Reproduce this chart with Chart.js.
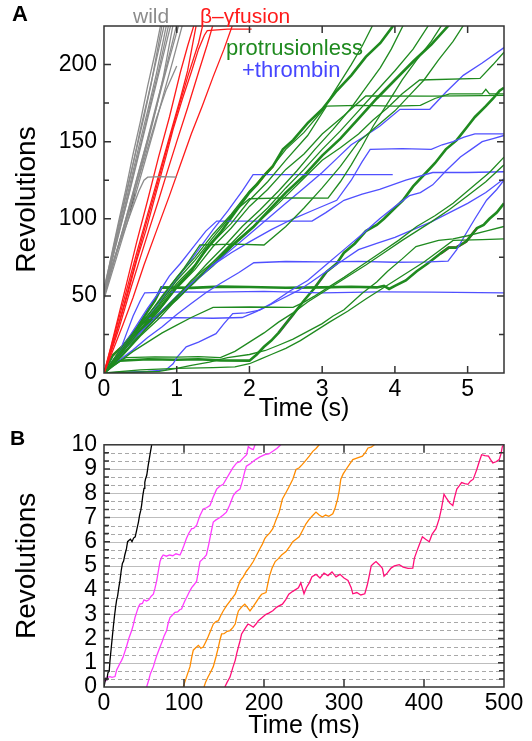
<!DOCTYPE html>
<html>
<head>
<meta charset="utf-8">
<script src="https://cdn.jsdelivr.net/npm/chart.js@4/dist/chart.umd.min.js"></script>
<style>
  body { margin: 0; background: #fff; width: 532px; height: 741px; position: relative; overflow: hidden;
         font-family: "Liberation Sans", Arial, sans-serif; }
  canvas { position: absolute; left: 0; }
  #chartA { top: 0; }
  #chartB { top: 424px; }
  .lbl { position: absolute; line-height: 1; white-space: nowrap; }
</style>
</head>
<body>
<canvas id="chartA" width="532" height="424"></canvas>
<canvas id="chartB" width="532" height="317"></canvas>
<div class="lbl" style="left:12px;top:3px;font-size:22px;font-weight:bold;">A</div>
<div class="lbl" style="left:10px;top:427px;font-size:21px;font-weight:bold;">B</div>
<div class="lbl" style="left:133px;top:5px;font-size:21px;color:#8c8c8c;">wild</div>
<div class="lbl" style="left:200px;top:5px;font-size:21px;color:#ff1a1a;">β–γfusion</div>
<div class="lbl" style="left:226px;top:37px;font-size:22px;color:#1f8a1f;">protrusionless</div>
<div class="lbl" style="left:242px;top:59px;font-size:22px;color:#4646ff;">+thrombin</div>
<script>
// ---------- panel A : time (s) vs revolutions ----------
const GRAY = "#8c8c8c", RED = "#ff1a1a", GREEN = "#1f8a1f", BLUE = "#5050ff";
const ORANGE = "#ff8c00", MAGENTA = "#ff3cff", CRIMSON = "#ff0f78";

const wildTraces = [
  [[0,53],[0.1,76],[0.2,98],[0.3,119],[0.4,142],[0.5,163],[0.6,186],[0.7,207],[0.78,226]],
  [[0,55],[0.1,75],[0.2,96],[0.33,122],[0.45,146],[0.55,166],[0.65,188],[0.8,226]],
  [[0,51],[0.12,77],[0.25,104],[0.38,131],[0.5,158],[0.6,178],[0.7,199],[0.83,226]],
  [[0,52],[0.1,72],[0.22,95],[0.35,121],[0.48,147],[0.6,170],[0.72,194],[0.86,226]],
  [[0,50],[0.15,80],[0.3,108],[0.42,132],[0.55,157],[0.65,177],[0.75,196],[0.89,226]],
  [[0,54],[0.18,87],[0.35,117],[0.48,142],[0.6,165],[0.7,184],[0.8,203],[0.92,226]],
  [[0,50],[0.1,67],[0.2,83],[0.35,105],[0.42,117],[0.52,135],[0.62,153],[0.72,172],[0.82,193],[0.95,226]],
  [[0,49],[0.15,74],[0.3,100],[0.45,126],[0.6,152],[0.72,174],[0.85,197],[1.0,226]],
  [[0,52],[0.18,80],[0.35,108],[0.5,134],[0.65,160],[0.78,183],[0.9,204],[1.03,226]],
  [[0,48],[0.2,79],[0.4,110],[0.55,135],[0.7,160],[0.82,181],[0.95,203],[1.08,226]],
  [[0,51],[0.15,75],[0.3,98],[0.45,122],[0.6,146],[0.72,165],[0.85,183],[1.0,199]],
  [[0,53],[0.1,68],[0.2,82],[0.3,95],[0.4,108],[0.48,118],[0.55,125],[0.6,127],[0.8,127.3],[1.0,127]],
];
const wildBlack = [[0.35,105],[0.38,110],[0.42,117]];

const fusionTraces = [
  [[0,0],[0.1,18],[0.2,37],[0.3,56],[0.45,85],[0.6,112],[0.75,140],[0.9,166],[1.05,195],[1.15,212],[1.24,226]],
  [[0,0],[0.15,26],[0.3,52],[0.45,78],[0.6,103],[0.75,128],[0.9,153],[1.05,178],[1.15,196],[1.27,226]],
  [[0,0],[0.12,18],[0.25,40],[0.4,66],[0.55,92],[0.7,117],[0.85,143],[1.0,168],[1.15,192],[1.3,214],[1.36,226]],
  [[0,0],[0.2,31],[0.33,52],[0.45,73],[0.58,93],[0.7,114],[0.85,140],[0.95,158],[1.08,178],[1.2,195],[1.3,210],[1.38,219],[1.42,222],[1.7,223],[2.03,223]],
  [[0,0],[0.2,28],[0.35,52],[0.5,75],[0.62,93],[0.75,112],[0.88,132],[1.0,150],[1.15,172],[1.3,195],[1.42,213],[1.5,226]],
  [[0,0],[0.25,30],[0.4,49],[0.55,70],[0.72,92],[0.9,115],[1.05,135],[1.2,155],[1.35,173],[1.5,192],[1.65,210],[1.77,226]],
];

const greenThick = [
  [[0,0],[0.15,7],[0.3,17],[0.45,24],[0.6,34],[0.8,44],[1.0,56],[1.2,66],[1.4,80],[1.6,91],[1.8,104],[2.0,117],[2.1,122],[2.2,128],[2.32,134],[2.46,145],[2.6,151],[2.8,162],[3.0,171],[3.2,183],[3.4,193],[3.6,205],[3.8,214],[3.99,226]],
  [[0,0],[0.12,5],[0.22,8],[0.6,8.9],[1.0,8.6],[1.3,8.9],[1.6,8.2],[2.0,8],[2.1,12],[2.2,17],[2.3,21],[2.4,26],[2.5,32],[2.61,38.5],[2.75,47],[2.89,54.8],[2.97,60],[3.06,65.6],[3.2,71],[3.3,78],[3.45,84],[3.6,92],[3.75,96],[3.85,100],[4.0,107],[4.11,112],[4.25,121],[4.43,130],[4.55,136],[4.7,145],[4.85,151],[5.0,160],[5.1,166],[5.25,173],[5.35,178],[5.44,183],[5.5,185]],
  [[0,0],[0.15,9],[0.3,20],[0.45,29],[0.6,40],[0.7,47],[0.79,55.5],[1.2,55.2],[1.6,56],[2.0,55.8],[2.5,55.3],[3.0,55.5],[3.4,55.9],[3.75,55.5],[3.85,56.5],[3.92,54.5],[4.0,56.5],[4.15,60],[4.3,66],[4.45,71],[4.63,77.6],[4.74,81.3],[4.84,81.3],[4.98,85.2],[5.13,94],[5.22,96],[5.3,100],[5.4,104],[5.5,110]],
  [[0,0],[0.06,6],[0.12,11.4],[0.2,15],[0.26,17.5],[0.33,21],[0.45,26],[0.6,32],[0.8,40],[1.0,48],[1.25,60],[1.5,70],[1.75,82],[2.06,95],[2.3,107],[2.5,117],[2.75,128],[3.0,141],[3.25,152],[3.5,165],[3.75,178],[4.0,190],[4.25,202],[4.5,213],[4.75,226]],
];

const greenThin = [
  [[0,0],[0.25,14],[0.5,30],[0.75,43],[1.0,58],[1.25,70],[1.5,85],[1.75,97],[2.0,112],[2.25,124],[2.5,138],[2.8,154],[3.06,173],[3.5,173.5],[4.0,173],[4.35,173.5],[4.55,178],[4.75,181],[5.2,181],[5.25,184],[5.3,181],[5.5,181]],
  [[0,0],[0.25,13],[0.5,28],[0.75,40],[1.0,55],[1.25,67],[1.5,82],[1.75,94],[2.0,108],[2.25,119],[2.5,132],[2.75,142],[3.0,155],[3.3,167],[3.6,179.6],[4.5,179.5],[5.2,179.8],[5.5,180]],
  [[0,0],[0.3,14],[0.6,30],[0.9,44],[1.2,60],[1.5,72],[1.8,85],[2.1,97],[2.4,110],[2.7,124],[3.0,138],[3.25,146],[3.5,155],[3.7,164],[3.9,172],[4.1,181],[4.34,190],[5.17,191],[5.35,200],[5.5,208]],
  [[0,0],[0.25,17],[0.5,32],[0.75,46],[1.0,62],[1.25,75],[1.5,90],[1.75,103],[2.0,118],[2.25,130],[2.5,145],[2.75,156],[3.0,170],[3.2,185],[3.4,200],[3.55,212],[3.7,226]],
  [[0,0],[0.25,14],[0.5,30],[0.75,44],[1.0,60],[1.25,73],[1.5,88],[1.8,105],[2.0,113],[2.5,113.6],[3.08,113.4],[3.25,124],[3.4,135],[3.55,147],[3.7,160],[3.9,175],[4.1,190],[4.3,203],[4.5,215],[4.65,226]],
  [[0,0],[0.2,12],[0.4,25],[0.6,37],[0.8,50],[1.1,68],[1.32,83],[1.8,83.5],[2.2,83],[2.5,95],[2.75,107],[3.0,120],[3.25,134],[3.5,150],[3.75,160],[4.0,170],[4.2,180],[4.4,190],[4.6,203],[4.8,215],[4.95,226]],
  [[0,0],[0.2,7],[0.4,14],[0.6,20],[0.8,26],[1.0,31],[1.2,36],[1.5,42.5],[2.0,42.8],[2.6,42.5],[2.75,46],[2.9,50],[3.1,56],[3.3,62],[3.55,70],[3.8,78],[4.05,86],[4.3,95],[4.55,102],[4.8,110],[5.1,122],[5.3,130],[5.5,140]],
  [[0,0],[0.4,0.5],[0.76,1],[1.0,3],[1.2,5],[1.45,7],[1.7,10],[2.0,12],[2.22,14.6],[2.4,18],[2.6,22],[2.8,27],[3.0,32],[3.15,37],[3.3,41],[3.55,51.7],[3.75,59],[3.9,66],[4.1,74],[4.29,82],[4.6,86],[4.8,87],[5.0,89],[5.25,92],[5.5,95]],
  [[0,0],[0.5,2],[1.0,3],[1.5,3.5],[1.8,4],[2.0,6],[2.15,9],[2.3,12],[2.5,16],[2.7,21],[2.9,27],[3.1,33],[3.35,40],[3.6,48],[3.8,54],[4.0,60],[4.2,66],[4.4,72],[4.6,79],[4.8,86],[5.2,86.5],[5.5,87]],
  [[0,0],[0.15,6],[0.3,10],[0.7,10.5],[1.0,10.3],[1.3,10.6],[1.6,10],[1.8,14],[2.0,20],[2.2,26],[2.4,33],[2.6,39],[2.8,46],[3.0,52],[3.2,58],[3.4,64],[3.6,70],[3.85,78],[4.1,86],[4.3,92],[4.5,98],[4.75,106],[5.0,115],[5.25,124],[5.5,135]],
  [[0,0],[0.2,9],[0.4,20],[0.65,32],[0.9,45],[1.15,57],[1.4,70],[1.65,82],[1.9,95],[2.15,106],[2.4,118],[2.65,131],[2.9,145],[3.15,158],[3.4,172],[3.6,185],[3.8,198],[3.95,210],[4.12,226]],
  [[0,0],[0.25,11],[0.5,24],[0.75,35],[1.0,48],[1.25,59],[1.5,72],[1.75,84],[2.0,96],[2.25,107],[2.5,120],[2.75,132],[3.0,145],[3.25,157],[3.5,170],[3.75,183],[4.0,196],[4.25,210],[4.47,226]],
];

const blueTraces = [
  [[0,0],[0.1,4],[0.18,11],[0.25,18],[0.32,27],[0.4,37],[0.5,47],[0.56,52],[1.0,52.6],[1.5,52.5],[2.2,52.9],[3,52],[3.8,52.6],[4.5,52.5],[5.5,52]],
  [[0,0],[0.15,8],[0.3,20],[0.4,25],[0.5,31],[0.58,35.5],[1.0,35.9],[1.5,35.5],[1.9,36],[2.1,40],[2.3,45],[2.55,53],[2.8,60],[3.05,70],[3.3,80],[3.55,90],[3.79,100],[4.0,108],[4.2,115],[4.35,117],[4.52,122],[4.7,131],[4.9,140],[5.05,145],[5.2,150],[5.35,152],[5.5,154]],
  [[0,0],[0.3,0.5],[0.6,1],[0.85,2],[0.95,6],[1.0,10],[1.13,17],[1.3,20],[1.54,25.5],[1.65,32],[1.77,38.5],[1.95,39],[2.14,40.7],[2.4,47],[2.68,53.7],[2.85,59],[3.05,65.6],[3.25,72],[3.5,80],[3.75,84],[4.0,88],[4.25,93],[4.5,98],[4.75,104],[5.0,110],[5.25,117],[5.5,126]],
  [[0,0],[0.2,8],[0.4,15],[0.6,23],[0.8,30],[1.0,38],[1.2,45],[1.4,52],[1.6,58],[1.85,65],[2.06,71.5],[2.5,72.3],[3.0,72],[3.5,72.4],[4.0,71.8],[4.47,72],[4.73,72.5],[4.85,80],[4.98,90.6],[5.1,100],[5.26,112],[5.4,119],[5.5,125]],
  [[0,0],[0.15,10],[0.3,20],[0.45,31],[0.6,42],[0.75,52],[0.9,63],[1.05,71],[1.2,80],[1.4,92],[1.55,98.5],[2.2,98.5],[2.86,98.5],[3.05,104],[3.3,112],[3.55,116],[3.79,119],[4.15,125],[4.52,130],[5.0,130],[5.5,130.5]],
  [[0,0],[0.15,8],[0.3,18],[0.55,33],[0.8,48],[1.05,64],[1.3,80],[1.5,93],[1.7,105],[1.9,118],[2.05,128.6],[3.0,128.6],[3.97,128.6]],
  [[0,0],[0.25,12],[0.5,25],[0.75,38],[1.0,50],[1.25,60],[1.5,70],[1.75,78],[2.0,85],[2.3,93],[2.6,100],[2.9,106],[3.2,112],[3.4,125],[3.55,137],[3.66,145],[4.1,145.5],[4.5,145],[4.65,148],[4.8,150],[4.95,153],[5.1,155],[5.5,155]],
  [[0,0],[0.2,11],[0.4,22],[0.65,33],[0.9,45],[1.2,57],[1.5,70],[1.75,80],[2.0,90],[2.25,100],[2.5,110],[2.75,120],[3.0,130],[3.2,139],[3.4,148],[3.6,154],[3.79,160],[4.07,171],[4.48,171],[4.7,182],[4.94,193],[5.2,201],[5.5,211]],
];

const orangeA = [
  [[0.12,11.4],[0.2,15],[0.26,17.5],[0.33,21]],
  [[2.1,122],[2.2,128],[2.32,134]],
];
const magentaA = [
  [[2.4,26],[2.5,32],[2.61,38.5]],
  [[2.89,54.8],[2.97,60],[3.06,65.6]],
];
const crimsonA = [[4.63,77.6],[4.74,81.3],[4.84,81.3],[4.98,85.2],[5.13,94]];

const xTicksA = [0, 1, 2, 3, 4, 5];
const yTicksA = [0, 50, 100, 150, 200];

// ---------- panel B : time (ms) vs revolutions ----------
const blackB = [[0,0],[2,0.35],[3.5,0.3],[5,0.6],[6.5,0.65],[7.5,1.1],[9,1.6],[10.5,2.1],[11.7,2.5],[13,2.9],[14.5,3.3],[15.8,3.6],[17,3.75],[18.5,4.1],[20,4.4],[21.5,4.8],[23,5.1],[24.5,5.2],[26,5.45],[28,5.7],[29.5,6.0],[31,6.05],[33,6.1],[35,6.0],[37,6.15],[39,6.2],[41,6.5],[42,6.65],[43,6.8],[44.5,7.1],[46,7.3],[47,7.5],[48.5,7.9],[50,8.2],[51,8.45],[52,8.6],[53.5,8.75],[55,9.1],[56.5,9.4],[58,9.7],[59.6,10]];
const magentaB1 = [[0,0.3],[2,0.25],[4,0.4],[7.5,0.43],[10,0.4],[13.75,0.43],[15.8,0.7],[18,0.85],[20,0.98],[22,1.1],[24,1.25],[26,1.45],[28,1.65],[31,2.0],[34.6,2.33],[36.5,2.55],[38.75,2.87],[41,3.1],[43,3.3],[45,3.42],[48,3.45],[50,3.6],[53.3,3.55],[56,3.6],[59,3.75],[61.7,3.83],[63.5,4.05],[65.8,4.37],[68,4.8],[70,5.18],[72,5.35],[74,5.45],[78,5.4],[82,5.45],[86,5.42],[90,5.5],[95,5.45],[97,5.59],[100,5.85],[103,6.13],[106,6.35],[109.6,6.54],[112,6.55],[115.8,6.68],[118,6.9],[120,7.08],[124,7.35],[128,7.4],[132.5,7.49],[136,7.8],[140.8,8.17],[145,8.3],[149,8.37],[153,8.6],[157.5,8.85],[161,9.05],[165.8,9.25],[170,9.3],[174,9.45],[178.3,9.59],[180.4,9.93],[183,9.85],[186.6,9.8],[188.75,10]];
const magentaB2 = [[53.3,0],[56,0.3],[58,0.55],[61.7,0.84],[64,1.1],[66,1.3],[70,1.65],[73,1.9],[75,2.1],[78.3,2.33],[80,2.6],[82.5,2.87],[85,2.95],[88.75,3.08],[92,3.1],[95,3.2],[97,3.22],[99,3.4],[101,3.55],[104,3.75],[107,3.95],[109.6,4.1],[112,4.2],[115.8,4.37],[118,4.8],[120,5.18],[124,5.3],[128,5.45],[131,5.9],[134,6.4],[136.6,6.81],[140,6.9],[145,7.0],[149,7.1],[153,7.22],[157,7.5],[161.6,7.9],[165,8.05],[170,8.17],[173,8.5],[176,8.9],[178,9.12],[182,9.2],[186.6,9.32],[190,9.4],[195,9.5],[201,9.59],[206,9.62],[211,9.73],[216,9.85],[221,10]];
const orangeB1 = [[99,0],[101,0.2],[104,0.5],[107.5,0.84],[109.5,1.2],[111.6,1.52],[114,1.6],[117.9,1.72],[121,1.6],[124,1.65],[127,1.85],[130,2.06],[133,2.3],[136.6,2.6],[140,2.7],[143,2.74],[146,2.95],[149,3.14],[153,3.35],[157.5,3.55],[161,3.7],[164,3.83],[167,4.1],[170,4.37],[174,4.55],[178,4.78],[182,4.95],[186.6,5.18],[190,5.4],[195,5.72],[198,5.9],[201,6.13],[202.5,6.2],[207,6.35],[211,6.54],[215,6.9],[219,7.22],[223,7.76],[227.5,8.03],[231,8.25],[236,8.58],[240,8.98],[244,9.05],[248,9.19],[252,9.35],[256.6,9.53],[261,9.73],[265,9.85],[269,10]];
const orangeB2 = [[125,0],[127,0.2],[130,0.41],[133,0.6],[136.6,0.84],[140,1.25],[143,1.65],[145,1.95],[147,2.19],[150,2.2],[154,2.3],[157.5,2.33],[161,2.45],[164,2.6],[166,2.9],[168,3.14],[172,3.3],[176,3.42],[179,3.3],[182.5,3.14],[186,3.3],[191,3.55],[194,3.7],[197,3.83],[202.5,3.9],[205,4.3],[207,4.6],[210,4.9],[214,5.18],[218,5.3],[222,5.45],[227.5,5.59],[232,5.8],[236,6.0],[240,6.1],[244,6.2],[248,6.45],[252.5,6.74],[256,6.9],[260,7.05],[265,7.22],[269,7.1],[273,7.02],[277,7.1],[281,7.05],[286,7.15],[289,7.4],[292,7.76],[294,8.1],[296,8.58],[299,8.8],[302.5,8.98],[306,9.15],[311,9.39],[316,9.45],[323,9.53],[327,9.7],[330,9.87],[334,9.9],[338,10]];
const crimsonB = [[151,0],[154,0.2],[157.5,0.41],[161,0.8],[164,1.1],[166,1.4],[168,1.65],[170,1.9],[172,2.19],[175,2.35],[178,2.5],[180,2.6],[183,2.55],[186.6,2.47],[190,2.6],[193,2.74],[197,2.85],[202.5,3.0],[206,3.05],[211,3.15],[216,3.3],[223,3.42],[227,3.6],[231,3.83],[236,3.95],[243,4.1],[246,4.3],[250,3.85],[253,4.1],[256.6,4.3],[260,4.55],[265,4.65],[270,4.5],[275,4.7],[280,4.6],[285,4.75],[290,4.55],[295,4.65],[300,4.5],[305,4.4],[309,4.1],[311,3.85],[316,3.9],[321,3.8],[326,3.85],[329,4.2],[331,4.5],[334,5.0],[337,5.1],[340,5.18],[344,5.05],[348,4.9],[350,4.57],[354,4.7],[358.8,4.91],[363,5.0],[369,5.05],[374,4.95],[380,4.9],[386,4.91],[388,5.32],[391,5.6],[394,5.86],[398,6.2],[402,6.1],[406.6,6.0],[410,6.3],[415,6.54],[419,6.95],[422,7.4],[425,7.96],[428,7.8],[432,7.6],[436,7.49],[438,7.8],[441,8.17],[444,8.3],[447,8.44],[451,8.4],[455,8.37],[458,8.5],[461.6,8.58],[464,8.8],[466,8.98],[469,9.3],[472,9.59],[476,9.55],[480.6,9.53],[483,9.4],[486,9.25],[490,9.3],[494,9.39],[496,9.6],[498,9.93],[500,10]];

const xTicksB = [0, 100, 200, 300, 400, 500];
const yTicksB = [0, 1, 2, 3, 4, 5, 6, 7, 8, 9, 10];

// ---------- helpers ----------
const FONT = "'Liberation Sans', Arial, sans-serif";
const line = (pts, color, width) => ({
  data: pts.map(([x, y]) => ({ x, y })),
  borderColor: color,
  borderWidth: width,
  pointRadius: 0,
  fill: false,
  tension: 0,
  clip: 0,
});

// frame, inward ticks and (panel B) the dashed grid, all placed with the chart's own scales
const framePlugin = (cfg) => ({
  id: "frame",
  beforeDatasetsDraw(chart) {
    if (!cfg.grid) return;
    const { ctx, chartArea: a, scales: { y } } = chart;
    ctx.save();
    for (let k = 1; k < cfg.grid.count; k++) {
      const py = Math.round(y.getPixelForValue(k * cfg.grid.step)) + 0.5;
      const major = k % 3 === 0;
      ctx.strokeStyle = major ? "#bdbdbd" : "#a8a8a8";
      ctx.lineWidth = 1;
      ctx.setLineDash(major ? [] : [4, 3]);
      ctx.beginPath();
      ctx.moveTo(a.left, py);
      ctx.lineTo(a.right, py);
      ctx.stroke();
    }
    ctx.restore();
  },
  afterDatasetsDraw(chart) {
    const { ctx, chartArea: a, scales: { x, y } } = chart;
    ctx.save();
    ctx.strokeStyle = "#333";
    ctx.lineWidth = 1.5;
    ctx.setLineDash([]);
    ctx.beginPath();
    for (const v of cfg.xTicks) {
      const px = x.getPixelForValue(v);
      ctx.moveTo(px, a.bottom); ctx.lineTo(px, a.bottom - cfg.xLen);
      ctx.moveTo(px, a.top); ctx.lineTo(px, a.top + cfg.xLen);
    }
    for (const [v, len] of cfg.yTicks) {
      const py = y.getPixelForValue(v);
      ctx.moveTo(a.left, py); ctx.lineTo(a.left + len, py);
      ctx.moveTo(a.right, py); ctx.lineTo(a.right - len, py);
    }
    ctx.stroke();
    ctx.strokeRect(a.left, a.top, a.right - a.left, a.bottom - a.top);
    ctx.restore();
  },
});

const axes = ({ xMax, yMax, xTitle, labelX, labelY, xHeight }) => ({
  x: {
    type: "linear", min: 0, max: xMax,
    grid: { display: false, drawTicks: false }, border: { display: false },
    afterBuildTicks: (s) => { s.ticks = labelX.map((v) => ({ value: v })); },
    ticks: { autoSkip: false, maxRotation: 0, padding: 3, color: "#000",
             font: { family: FONT, size: 23 } },
    title: { display: true, text: xTitle, color: "#000", font: { family: FONT, size: 25 },
             padding: { top: 0, bottom: 0 } },
    afterFit: (s) => { s.height = xHeight; },
  },
  y: {
    min: 0, max: yMax,
    grid: { display: false, drawTicks: false }, border: { display: false },
    afterBuildTicks: (s) => { s.ticks = labelY.map((v) => ({ value: v })); },
    ticks: { autoSkip: false, padding: 7, color: "#000",
             font: { family: FONT, size: 23 } },
    title: { display: true, text: "Revolutions", color: "#000", font: { family: FONT, size: 28 },
             padding: { top: 4, bottom: 4 } },
    afterFit: (s) => { s.width = 98; },
  },
});

const baseOptions = (scales, padding) => ({
  responsive: false,
  animation: false,
  events: [],
  layout: { padding },
  plugins: { legend: { display: false }, tooltip: { enabled: false } },
  scales,
});

// ---------- chart A ----------
const datasetsA = [
  ...wildTraces.map((t) => line(t, GRAY, 1.3)),
  line(wildBlack, "#000", 2.2),
  ...fusionTraces.map((t) => line(t, RED, 1.3)),
  ...greenThin.map((t) => line(t, GREEN, 1.3)),
  ...blueTraces.map((t) => line(t, BLUE, 1.3)),
  ...greenThick.map((t) => line(t, GREEN, 2.6)),
  ...orangeA.map((t) => line(t, ORANGE, 2.6)),
  ...magentaA.map((t) => line(t, MAGENTA, 2.6)),
  line(crimsonA, CRIMSON, 2.6),
];

new Chart(document.getElementById("chartA"), {
  type: "line",
  data: { datasets: datasetsA },
  options: baseOptions(
    axes({ xMax: 5.5, yMax: 225, xTitle: "Time (s)", labelX: xTicksA, labelY: yTicksA, xHeight: 51 }),
    { left: 6, right: 28, top: 26, bottom: 0 }
  ),
  plugins: [framePlugin({
    xTicks: [1, 2, 3, 4, 5], xLen: 7,
    yTicks: [[25,5],[50,7],[75,5],[100,7],[125,5],[150,7],[175,5],[200,7]],
  })],
});

// ---------- chart B ----------
const thirds = [];
for (let k = 1; k < 30; k++) thirds.push([k / 3, k % 3 === 0 ? 6 : 5]);

new Chart(document.getElementById("chartB"), {
  type: "line",
  data: {
    datasets: [
      line(blackB, "#000", 1.3),
      line(magentaB1, MAGENTA, 1.3),
      line(magentaB2, MAGENTA, 1.3),
      line(orangeB1, ORANGE, 1.3),
      line(orangeB2, ORANGE, 1.3),
      line(crimsonB, CRIMSON, 1.3),
    ],
  },
  options: baseOptions(
    axes({ xMax: 500, yMax: 10, xTitle: "Time (ms)", labelX: xTicksB, labelY: yTicksB, xHeight: 54 }),
    { left: 6, right: 28, top: 18, bottom: 0 }
  ),
  plugins: [framePlugin({
    xTicks: [100, 200, 300, 400], xLen: 8,
    yTicks: thirds,
    grid: { count: 30, step: 1 / 3 },
  })],
});
</script>
</body>
</html>
